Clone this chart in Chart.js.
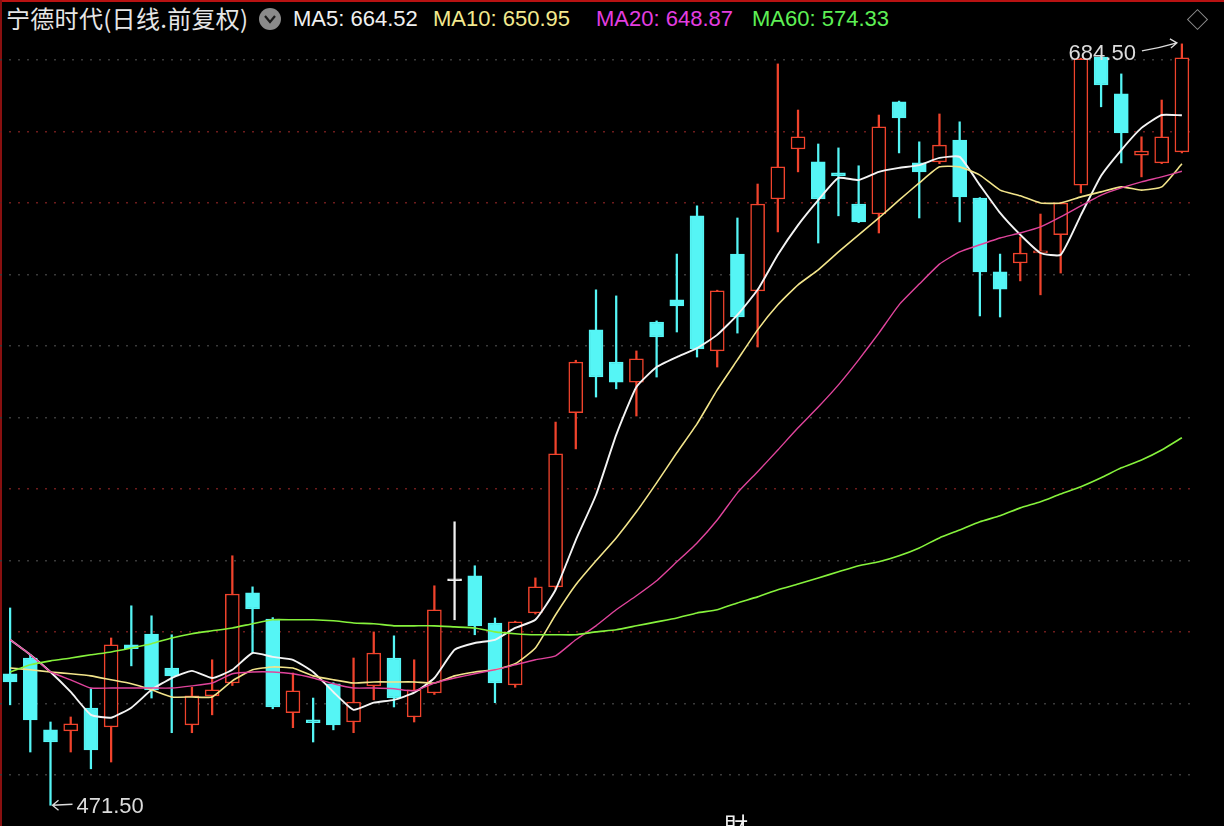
<!DOCTYPE html>
<html>
<head>
<meta charset="utf-8">
<script src="https://cdn.jsdelivr.net/npm/chart.js@4.4.1/dist/chart.umd.min.js"></script>
<style>
  html, body { margin: 0; padding: 0; background: #000; width: 1224px; height: 826px; overflow: hidden; }
  #wrap { position: relative; width: 1224px; height: 826px; background: #000; }
  #chartBox { position: absolute; left: 0; top: 38px; width: 1224px; height: 788px; }
  .hd { position: absolute; top: 6px; font: 22px "Liberation Sans", Arial, sans-serif; white-space: nowrap; line-height: 26px; }
  #title { position: absolute; left: 6px; top: 2px; font: 24px "Noto Sans CJK SC", sans-serif; color: #e6e6e6; line-height: 32px; white-space: nowrap; letter-spacing: 0.3px; }
  #chev { position: absolute; left: 259px; top: 8px; width: 22px; height: 22px; border-radius: 50%; background: #8a8a8a; }
  #diamond { position: absolute; left: 1190px; top: 12px; width: 13px; height: 13px; border: 1.5px solid #8c8c8c; transform: rotate(45deg); }
  #topline { position: absolute; left: 0; top: 0; width: 1224px; height: 2px; background: #b81212; }
  #leftline { position: absolute; left: 0; top: 0; width: 2px; height: 826px; background: #8a1010; }
  #cai { position: absolute; left: 724px; top: 811px; font: 24px "Noto Sans CJK TC", sans-serif; color: #f0f0f0; line-height: 28px; }
</style>
</head>
<body>
<div id="wrap">
  <div id="topline"></div>
  <div id="leftline"></div>
  <div id="title">宁德时代(日线.前复权)</div>
  <div id="chev"><svg width="22" height="22"><polyline points="6,8 11,14 16,8" fill="none" stroke="#1a1a1a" stroke-width="2.2"/></svg></div>
  <div class="hd" style="left:293px;color:#f0f0f0">MA5: 664.52</div>
  <div class="hd" style="left:433px;color:#f3e98e">MA10: 650.95</div>
  <div class="hd" style="left:596px;color:#e43ee0">MA20: 648.87</div>
  <div class="hd" style="left:752px;color:#5ef055">MA60: 574.33</div>
  <div id="diamond"></div>
  <div id="chartBox"><canvas id="kChart" width="1224" height="788"></canvas></div>
  <div id="cai">財</div>
</div>
<script>
// daily candles (前复权 prices)
const opens  = [508.3,512.7,492.6,492.3,498.7,493.4,516.4,519.4,509.9,494.0,
                502.1,505.7,530.9,523.6,497.4,495.4,505.5,494.8,504.9,512.7,
                496.2,502.9,534.3,535.7,522.5,505.2,525.3,532.6,581.3,604.5,
                595.5,589.9,606.7,612.9,636.4,598.6,625.7,615.4,641.1,655.1,
                651.5,648.4,639.7,636.9,668.3,651.2,651.5,657.6,641.4,620.7,
                623.2,626.0,631.1,645.0,680.8,670.5,653.4,651.2,654.3];
const highs  = [526.7,513.6,494.8,496.2,504.1,518.3,527.3,524.5,519.2,504.5,
                512.2,541.3,532.6,524.0,508.5,501.5,505.8,512.7,520.0,518.9,
                512.2,532.9,550.8,538.5,523.9,523.0,535.1,578.7,596.0,615.7,
                614.0,598.6,607.0,625.7,639.2,615.6,635.8,645.3,678.9,666.0,
                656.5,655.4,650.4,664.6,668.5,657.1,664.9,662.7,641.5,625.7,
                630.5,636.9,640.2,680.5,681.0,676.1,658.5,668.8,684.5];
const lows   = [499.6,486.4,471.5,486.4,481.7,483.6,510.5,501.5,491.8,491.8,
                496.8,505.0,514.1,498.5,493.2,489.2,492.6,491.8,501.0,499.0,
                494.8,502.5,523.4,519.2,500.2,504.5,525.0,532.0,571.2,585.7,
                588.0,580.4,591.3,603.9,596.9,594.1,603.6,599.7,631.9,648.7,
                628.8,636.4,634.5,631.6,654.0,635.8,651.0,634.7,608.4,608.1,
                618.2,614.3,620.4,642.8,666.9,651.2,647.3,651.0,654.0];
const closes = [506.0,495.4,489.2,494.3,487.0,516.4,515.3,503.8,507.7,502.1,
                503.8,530.6,526.4,499.0,503.5,494.6,494.0,500.4,514.1,501.5,
                503.8,526.2,534.3,521.7,505.7,522.8,532.6,569.8,595.5,591.3,
                589.9,596.4,602.5,611.2,599.2,615.4,608.1,639.7,650.1,658.5,
                641.1,647.6,634.7,661.3,663.8,648.7,656.2,641.7,620.7,615.9,
                626.0,626.6,640.0,680.3,673.0,659.6,654.5,658.5,680.6];

// moving averages as drawn on the chart
const ma5  = [517.8,513.6,508.8,503.2,496.8,496.0,498.8,503.8,507.1,509.1,
              507.1,509.4,514.1,513.0,512.2,508.8,503.2,498.2,500.2,501.0,
              503.0,507.1,515.0,516.9,517.8,521.1,523.4,531.8,545.7,558.3,
              575.1,588.5,594.1,596.9,599.4,603.1,608.7,615.7,625.5,633.8,
              640.8,647.0,646.4,648.7,649.8,650.6,652.6,652.9,645.0,637.2,
              631.1,626.0,625.5,636.6,647.6,654.8,661.0,664.6,664.52];
const ma10 = [509.9,509.4,508.8,508.3,507.7,506.6,505.5,503.8,501.8,501.8,
              501.8,506.3,509.4,510.2,509.9,507.7,506.6,505.7,506.0,506.0,
              506.0,505.7,507.7,508.8,509.4,511.1,515.5,524.8,533.2,539.9,
              546.3,553.6,561.7,570.1,578.2,587.7,596.1,604.5,611.5,617.1,
              621.3,626.3,631.1,635.8,640.8,645.6,650.1,650.1,647.8,643.6,
              642.0,640.0,640.0,641.7,643.1,644.5,643.6,644.5,650.95];
const ma20 = [517.8,513.6,508.8,506.6,504.3,504.3,504.3,504.3,504.3,504.9,
              505.7,508.3,508.8,508.8,508.3,507.1,505.5,504.3,504.3,504.1,
              503.5,505.7,507.1,508.3,509.4,510.8,512.2,513.3,517.8,521.7,
              526.2,530.1,534.3,539.6,544.9,551.3,558.9,564.8,570.9,577.1,
              582.9,589.1,596.1,603.6,611.5,617.3,622.9,626.3,628.3,630.2,
              631.6,633.3,636.1,639.2,642.2,644.2,645.9,647.3,648.87];
const ma60 = [508.8,510.8,511.9,512.7,513.6,514.4,515.5,516.7,518.3,519.5,
              520.3,521.1,522.3,523.4,523.4,523.4,523.1,522.5,522.3,521.7,
              521.7,521.7,521.4,521.1,520.0,519.5,519.2,519.2,519.2,520.0,
              520.6,521.7,522.8,523.9,525.3,526.2,528.1,529.8,531.8,533.4,
              535.1,536.8,538.5,539.6,541.3,543.5,546.3,548.5,550.8,552.5,
              554.7,556.4,558.6,560.6,563.1,565.9,568.1,570.9,574.33];

const gridTicks = [480, 500, 520, 540, 560, 580, 600, 620, 640, 660, 680];
const redGrid = [520, 560, 640, 660];
const days = opens.map((_, i) => 'D' + (i + 1));

const UP = '#f0432c', DOWN = '#55f5f5', FLAT = '#f0f0f0';
const candleColor = opens.map((o, i) => closes[i] > o ? UP : (closes[i] < o ? DOWN : FLAT));
const bodyFill = opens.map((o, i) => closes[i] > o ? '#000000' : candleColor[i]);

// high / low markers
const markers = {
  id: 'markers',
  afterDatasetsDraw(chart) {
    const { ctx, scales: { x, y } } = chart;
    const hi = highs.indexOf(Math.max(...highs));
    const lo = lows.indexOf(Math.min(...lows));
    ctx.save();
    ctx.font = '22px "Liberation Sans", Arial, sans-serif';
    ctx.fillStyle = '#dcdcdc';
    ctx.strokeStyle = '#dcdcdc';
    ctx.lineWidth = 1.3;

    let px = x.getPixelForValue(hi), py = y.getPixelForValue(highs[hi]);
    ctx.textAlign = 'right';
    ctx.textBaseline = 'middle';
    ctx.fillText(highs[hi].toFixed(2), px - 46, py + 10);
    ctx.beginPath();
    ctx.moveTo(px - 40, py + 7);
    ctx.quadraticCurveTo(px - 22, py + 4, px - 5, py - 1);
    ctx.moveTo(px - 12, py - 5);
    ctx.lineTo(px - 5, py - 1);
    ctx.lineTo(px - 11, py + 4);
    ctx.stroke();

    px = x.getPixelForValue(lo); py = y.getPixelForValue(lows[lo]);
    ctx.textAlign = 'left';
    ctx.fillText(lows[lo].toFixed(2), px + 26, py + 2);
    ctx.beginPath();
    ctx.moveTo(px + 2, py);
    ctx.lineTo(px + 22, py - 1);
    ctx.moveTo(px + 8, py - 5);
    ctx.lineTo(px + 2, py);
    ctx.lineTo(px + 8, py + 5);
    ctx.stroke();
    ctx.restore();
  }
};

const maLine = (data, color, width) => ({
  type: 'line', data: data, borderColor: color, borderWidth: width,
  pointRadius: 0, tension: 0.15, fill: false, order: 0
});

new Chart(document.getElementById('kChart'), {
  type: 'bar',
  data: {
    labels: days,
    datasets: [
      maLine(ma60, '#86f23c', 1.6),
      maLine(ma20, '#e0449c', 1.4),
      maLine(ma10, '#f2e48a', 1.6),
      maLine(ma5, '#f4f4f4', 1.9),
      {
        data: opens.map((o, i) => [o, closes[i]]),
        backgroundColor: bodyFill,
        borderColor: candleColor,
        borderWidth: 1.5,
        borderSkipped: false,
        barThickness: 14,
        minBarLength: 2,
        grouped: false,
        order: 1
      },
      {
        data: lows.map((l, i) => [l, highs[i]]),
        backgroundColor: candleColor,
        borderWidth: 0,
        barThickness: 1.6,
        grouped: false,
        order: 2
      }
    ]
  },
  options: {
    responsive: false,
    animation: false,
    devicePixelRatio: 1,
    layout: { padding: { left: 0, right: 32, top: 0, bottom: 0 } },
    plugins: { legend: { display: false }, tooltip: { enabled: false } },
    scales: {
      x: {
        afterFit(s) { s.height = 0; },
        ticks: { display: false },
        grid: { display: false },
        border: { display: false }
      },
      y: {
        min: 465.7,
        max: 686.15,
        afterFit(s) { s.width = 0; },
        afterBuildTicks(s) { s.ticks = gridTicks.map(v => ({ value: v })); },
        ticks: { display: false },
        grid: {
          drawTicks: false,
          lineWidth: 1.5,
          color: c => (c.tick && redGrid.includes(c.tick.value)) ? '#6e1c1c' : '#3a3a3a'
        },
        border: { display: false, dash: [2, 7] }
      }
    }
  },
  plugins: [markers]
});
</script>
</body>
</html>
